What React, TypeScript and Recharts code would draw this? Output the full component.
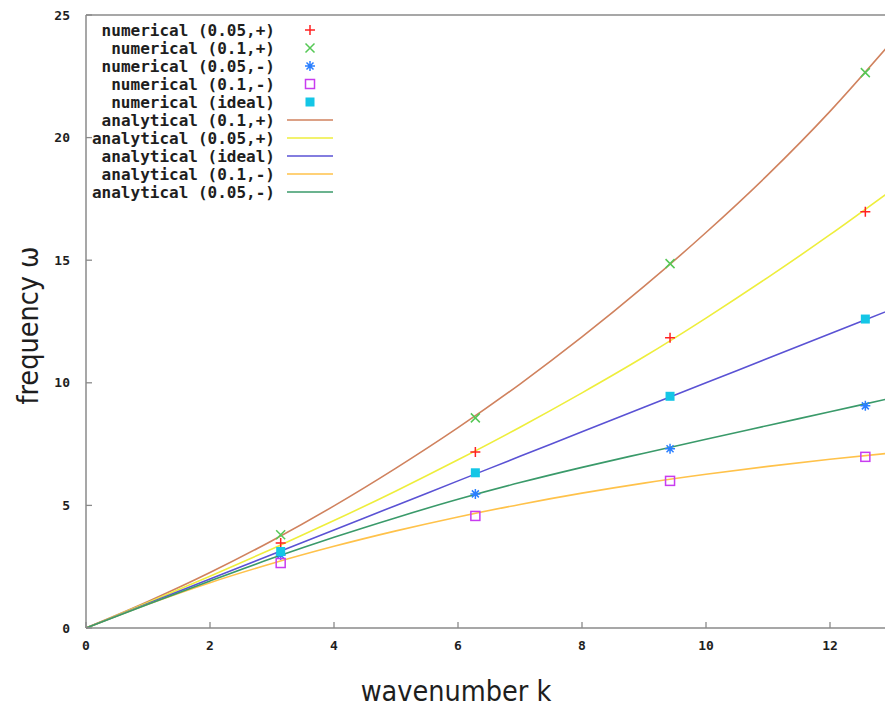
import React from "react";
import { ComposedChart, Line, Scatter, XAxis, YAxis, Legend } from "recharts";

// analytical dispersion curves, sampled along the wavenumber axis
const kCurve = [0, 1, 2, 3, 4, 5, 6, 7, 8, 9, 10, 11, 12, 13];
const wAna01Plus = [0, 1.08, 2.26, 3.56, 4.98, 6.52, 8.17, 9.95, 11.87, 13.93, 16.13, 18.49, 21.07, 23.92];
const wAna005Plus = [0, 1.04, 2.11, 3.22, 4.38, 5.59, 6.86, 8.19, 9.59, 11.06, 12.64, 14.3, 16.04, 17.87];
const wAnaIdeal = [0, 1, 2, 3, 4, 5, 6, 7, 8, 9, 10, 11, 12, 13];
const wAna01Minus = [0, 0.97, 1.85, 2.63, 3.33, 3.96, 4.53, 5.04, 5.5, 5.91, 6.27, 6.59, 6.88, 7.14];
const wAna005Minus = [0, 0.97, 1.92, 2.84, 3.7, 4.5, 5.25, 5.93, 6.55, 7.13, 7.7, 8.26, 8.82, 9.38];

// numerical results at k = pi, 2pi, 3pi, 4pi
const kNum = [3.14, 6.28, 9.42, 12.57];
const wNum005Plus = [3.47, 7.18, 11.84, 16.98];
const wNum01Plus = [3.8, 8.57, 14.86, 22.65];
const wNum005Minus = [2.98, 5.47, 7.31, 9.06];
const wNum01Minus = [2.65, 4.57, 6.0, 6.98];
const wNumIdeal = [3.12, 6.33, 9.45, 12.6];

const xTicks = [0, 2, 4, 6, 8, 10, 12];
const yTicks = [0, 5, 10, 15, 20, 25];

const toPoints = (ks: number[], ws: number[]) => ks.map((k, i) => ({ k, w: ws[i] }));

const FRAME = "#8a8a8a";
const INK = "#1e1e1e";
const TICK_FONT = { fontFamily: "'DejaVu Sans Mono', monospace", fontWeight: 700, fontSize: 13, fill: INK };
const TITLE_FONT = "'DejaVu Sans Condensed', 'Liberation Sans', sans-serif";

const PLOT_TOP = 15;
const PLOT_BOTTOM = 628;
const X_LABEL_GAP = 17;
const Y_LABEL_GAP = 16;
const TICK_LEN = 6;

type Mark = "plus" | "cross" | "star" | "box" | "fill";

function Marker({ cx, cy, mark, color }: { cx: number; cy: number; mark: Mark; color: string }) {
  if (cx == null || cy == null) return null;
  const s = { stroke: color, strokeWidth: 1.5, fill: "none" };
  switch (mark) {
    case "plus":
      return <path d={`M${cx - 5},${cy}h10M${cx},${cy - 5}v10`} {...s} />;
    case "cross":
      return <path d={`M${cx - 4.5},${cy - 4.5}l9,9M${cx - 4.5},${cy + 4.5}l9,-9`} {...s} />;
    case "star":
      return (
        <path
          d={`M${cx - 5},${cy}h10M${cx},${cy - 5}v10M${cx - 3.5},${cy - 3.5}l7,7M${cx - 3.5},${cy + 3.5}l7,-7`}
          {...s}
        />
      );
    case "box":
      return <rect x={cx - 4.5} y={cy - 4.5} width={9} height={9} {...s} />;
    default:
      return <rect x={cx - 4.5} y={cy - 4.5} width={9} height={9} fill={color} />;
  }
}

const numerical = [
  { name: "numerical (0.05,+)", mark: "plus" as Mark, color: "#ff2222", data: toPoints(kNum, wNum005Plus) },
  { name: "numerical (0.1,+)", mark: "cross" as Mark, color: "#55c855", data: toPoints(kNum, wNum01Plus) },
  { name: "numerical (0.05,-)", mark: "star" as Mark, color: "#2a7fff", data: toPoints(kNum, wNum005Minus) },
  { name: "numerical (0.1,-)", mark: "box" as Mark, color: "#c83cf0", data: toPoints(kNum, wNum01Minus) },
  { name: "numerical (ideal)", mark: "fill" as Mark, color: "#14c6e6", data: toPoints(kNum, wNumIdeal) },
];

const analytical = [
  { name: "analytical (0.1,+)", color: "#d0825e", data: toPoints(kCurve, wAna01Plus) },
  { name: "analytical (0.05,+)", color: "#eeee3c", data: toPoints(kCurve, wAna005Plus) },
  { name: "analytical (ideal)", color: "#5a52d4", data: toPoints(kCurve, wAnaIdeal) },
  { name: "analytical (0.1,-)", color: "#ffc24a", data: toPoints(kCurve, wAna01Minus) },
  { name: "analytical (0.05,-)", color: "#3a9a6a", data: toPoints(kCurve, wAna005Minus) },
];

// gnuplot-style key: right-aligned labels, sample to the right
function Key() {
  const rows = [
    ...numerical.map((s) => ({ name: s.name, color: s.color, mark: s.mark as Mark | null })),
    ...analytical.map((s) => ({ name: s.name, color: s.color, mark: null as Mark | null })),
  ];
  return (
    <svg width={340} height={205}>
      {rows.map((r, i) => {
        const y = 30 + i * 18;
        return (
          <g key={r.name}>
            <text
              x={275}
              y={y}
              dy="0.35em"
              textAnchor="end"
              style={{ fontFamily: "'DejaVu Sans Mono', monospace", fontWeight: 700, fontSize: 16, fill: INK }}
            >
              {r.name}
            </text>
            {r.mark ? (
              <Marker cx={310} cy={y} mark={r.mark} color={r.color} />
            ) : (
              <line x1={287} x2={333} y1={y} y2={y} stroke={r.color} strokeWidth={1.6} />
            )}
          </g>
        );
      })}
    </svg>
  );
}

const BottomTick = (props: any) => {
  const { x, y, payload } = props;
  const axisY = y - X_LABEL_GAP;
  return (
    <g>
      <line x1={x} x2={x} y1={axisY} y2={axisY - TICK_LEN} stroke={FRAME} strokeWidth={1.3} />
      <text x={x} y={y} dy="0.35em" textAnchor="middle" style={TICK_FONT}>
        {payload.value}
      </text>
    </g>
  );
};

const LeftTick = (props: any) => {
  const { x, y, payload } = props;
  const axisX = x + Y_LABEL_GAP;
  return (
    <g>
      <line x1={axisX} x2={axisX + TICK_LEN} y1={y} y2={y} stroke={FRAME} strokeWidth={1.3} />
      <text x={x} y={y} dy="0.35em" textAnchor="end" style={TICK_FONT}>
        {payload.value}
      </text>
    </g>
  );
};

const TopTick = (props: any) => {
  const { x, y } = props;
  return <line x1={x} x2={x} y1={y} y2={y + TICK_LEN} stroke={FRAME} strokeWidth={1.3} />;
};

const RightTick = (props: any) => {
  const { x, y } = props;
  return <line x1={x} x2={x - TICK_LEN} y1={y} y2={y} stroke={FRAME} strokeWidth={1.3} />;
};

export default function App() {
  return (
    <div style={{ position: "absolute", left: 0, top: 0, width: 885, height: 713, overflow: "hidden", background: "#fff" }}>
      <ComposedChart width={900} height={713} margin={{ top: 0, right: 0, bottom: 0, left: 0 }}>
        <XAxis
          dataKey="k"
          type="number"
          domain={[0, 13]}
          ticks={xTicks}
          height={713 - PLOT_BOTTOM}
          axisLine={{ stroke: FRAME, strokeWidth: 1.5 }}
          tickLine={false}
          tickSize={0}
          tickMargin={X_LABEL_GAP}
          tick={<BottomTick />}
          label={{
            value: "wavenumber k",
            position: "insideBottom",
            offset: 12,
            dx: -33,
            style: { fontFamily: TITLE_FONT, fontSize: 28.5, fill: INK },
          }}
        />
        <XAxis
          xAxisId="top"
          orientation="top"
          dataKey="k"
          type="number"
          domain={[0, 13]}
          ticks={xTicks}
          height={PLOT_TOP}
          axisLine={{ stroke: FRAME, strokeWidth: 1.5 }}
          tickLine={false}
          tickSize={0}
          tickMargin={0}
          tick={<TopTick />}
        />
        <YAxis
          type="number"
          domain={[0, 25]}
          ticks={yTicks}
          width={86}
          axisLine={{ stroke: FRAME, strokeWidth: 1.5 }}
          tickLine={false}
          tickSize={0}
          tickMargin={Y_LABEL_GAP}
          tick={<LeftTick />}
          label={{
            value: "frequency ω",
            angle: -90,
            position: "insideLeft",
            offset: 28,
            dy: 4,
            style: { fontFamily: TITLE_FONT, fontSize: 28.5, fill: INK, textAnchor: "middle" },
          }}
        />
        <YAxis
          yAxisId="right"
          orientation="right"
          type="number"
          domain={[0, 25]}
          ticks={yTicks}
          width={8}
          axisLine={{ stroke: FRAME, strokeWidth: 1.5 }}
          tickLine={false}
          tickSize={0}
          tickMargin={0}
          tick={<RightTick />}
        />
        <Legend
          layout="horizontal"
          verticalAlign="middle"
          align="center"
          content={() => <Key />}
          wrapperStyle={{ position: "absolute", top: 0, left: 0, width: 340, height: 205 }}
        />
        {analytical.map((s) => (
          <Line
            key={s.name}
            name={s.name}
            data={s.data}
            dataKey="w"
            type="monotone"
            stroke={s.color}
            strokeWidth={1.6}
            dot={false}
            activeDot={false}
            isAnimationActive={false}
          />
        ))}
        {numerical.map((s) => (
          <Scatter
            key={s.name}
            name={s.name}
            data={s.data}
            dataKey="w"
            fill={s.color}
            isAnimationActive={false}
            shape={(p: any) => <Marker cx={p.cx} cy={p.cy} mark={s.mark} color={s.color} />}
          />
        ))}
      </ComposedChart>
    </div>
  );
}
